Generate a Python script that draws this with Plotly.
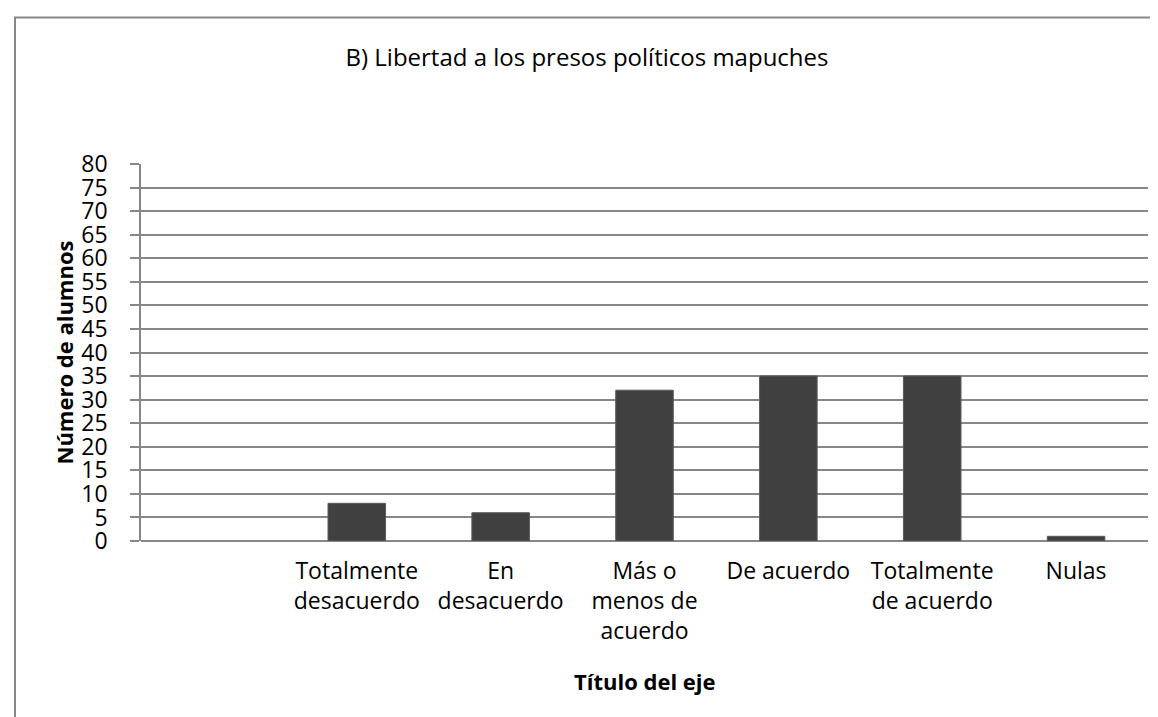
"""
B) Libertad a los presos políticos mapuches — gráfico de barras
"""

import plotly.graph_objects as go

# ── 資料 ──────────────────────────────────────────
categorias = [
    " ",
    "Totalmente<br>desacuerdo",
    "En<br>desacuerdo",
    "Más o<br>menos de<br>acuerdo",
    "De acuerdo",
    "Totalmente<br>de acuerdo",
    "Nulas",
]
alumnos = [None, 8, 6, 32, 35, 35, 1]
y_ticks = list(range(0, 85, 5))

titulo = "B) Libertad a los presos políticos mapuches"
titulo_y = "Número de alumnos"
titulo_x = "Título del eje"

FONT = "Open Sans"
GRIS = "#878787"
BARRA = "#404040"

W, H = 1158, 717
L, R, T, B = 133, 18, 156, 184

fig = go.Figure()
fig.add_trace(go.Bar(
    x=categorias,
    y=alumnos,
    marker=dict(color=BARRA, line=dict(color="#5a5a5a", width=1)),
    hovertemplate="%{x}: %{y}<extra></extra>",
))

fig.update_layout(
    width=W, height=H, autosize=False,
    margin=dict(l=L, r=R, t=T, b=B),
    paper_bgcolor="white", plot_bgcolor="white",
    showlegend=False,
    bargap=0.6,
    font=dict(family=FONT, size=23, color="black"),
    title=dict(text=titulo, x=0.5, xanchor="center", y=1 - 50 / H, yanchor="middle",
               font=dict(family=FONT, size=24, color="black")),
)

fig.update_xaxes(
    type="category",
    tickangle=0,
    showline=False,
    showgrid=False,
    ticks="",
    ticklabelstandoff=14,
    tickfont=dict(family=FONT, size=23, color="black"),
)
fig.update_yaxes(
    range=[0, 80],
    tickvals=y_ticks,
    showline=True, linecolor=GRIS, linewidth=1.5,
    showgrid=True, gridcolor=GRIS, gridwidth=1.5,
    ticks="outside", ticklen=9, tickcolor=GRIS, tickwidth=1.5,
    ticklabelstandoff=18,
    zeroline=True, zerolinecolor=GRIS, zerolinewidth=1.5,
    tickfont=dict(family=FONT, size=23, color="black"),
)

# ── 軸標題 ─────────────────────────────────────────
pw, ph = W - L - R, H - T - B
fig.add_annotation(
    text=f"<b>{titulo_y}</b>", textangle=-90,
    xref="paper", yref="paper",
    x=(55 - L) / pw, y=0.5, xanchor="center", yanchor="middle",
    showarrow=False, font=dict(family=FONT, size=22, color="black"),
)
fig.add_annotation(
    text=f"<b>{titulo_x}</b>",
    xref="paper", yref="paper",
    x=0.5, y=(H - B - 673) / ph, xanchor="center", yanchor="middle",
    showarrow=False, font=dict(family=FONT, size=22, color="black"),
)

# ── 外框 ───────────────────────────────────────────
fig.add_shape(
    type="rect", xref="paper", yref="paper",
    x0=(7 - L) / pw, x1=(W + 5 - L) / pw,
    y0=(H - B - (H + 5)) / ph, y1=(H - B - 9.5) / ph,
    line=dict(color=GRIS, width=2), layer="below",
)

fig.write_html("out.html")
